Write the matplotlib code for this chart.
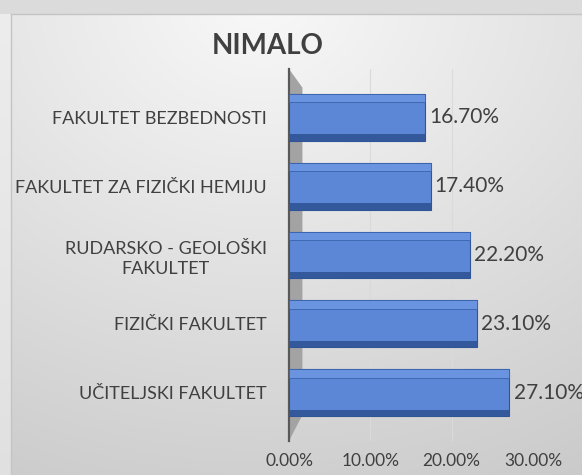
import numpy as np
import matplotlib
matplotlib.use("Agg")
import matplotlib.pyplot as plt
from matplotlib.patches import Polygon

# podaci (odozdo prema gore)
fakulteti = ['UČITELJSKI FAKULTET', 'FIZIČKI FAKULTET', 'RUDARSKO - GEOLOŠKI\nFAKULTET',
             'FAKULTET ZA FIZIČKI HEMIJU', 'FAKULTET BEZBEDNOSTI']
procenti = [27.1, 23.1, 22.2, 17.4, 16.7]
x_ticks = [0, 10, 20, 30]

plt.rcParams['font.family'] = ['Lato', 'DejaVu Sans']
tekst = '#404040'

W, H = 582, 475
fig = plt.figure(figsize=(W / 100, H / 100), dpi=100)

# pozadina: spoljni sivi okvir + panel sa gradijentom
bg = fig.add_axes([0, 0, 1, 1], zorder=-10)
yy, xx = np.mgrid[0:H, 0:W]
d = np.sqrt(((xx - 0.45 * W) / W) ** 2 + ((yy - 0.0 * H) / H) ** 2)
panel = np.clip(0.975 - 0.16 * d, 0.78, 1)
img = np.where((xx >= 11) & (yy >= 14), panel, 0.86)
img = np.where((xx < 11) & (yy >= 14), 0.93 - 0.05 * yy / H, img)
bg.imshow(np.dstack([img] * 3), aspect='auto', extent=[0, W, H, 0])
bg.plot([11, W], [14, 14], color='#c4c4c4', lw=1)
bg.plot([11, 11], [14, H], color='#c4c4c4', lw=1)
bg.set_xlim(0, W)
bg.set_ylim(H, 0)
bg.axis('off')

ax = fig.add_axes([289 / W, 1 - 441 / H, 244 / W, 372 / H])
ax.patch.set_alpha(0)
y = np.arange(len(fakulteti))
h = 0.68

# bočni zid
ax.add_patch(Polygon([(0, 1), (0.055, 0.95), (0.055, 0.07), (0, 0)], closed=True,
                     transform=ax.transAxes, facecolor='#a3a3a3', edgecolor='none',
                     zorder=1, clip_on=False))
ax.plot([0, 0], [0, 1], transform=ax.transAxes, color='#595959', lw=1.6, zorder=2,
        clip_on=False)

ax.barh(y, procenti, height=h, color='#5b87d6', edgecolor='#2f5597', linewidth=0.8, zorder=3)
ax.barh(y + h / 2 - 0.06, procenti, height=0.12, color='#6a94e0', edgecolor='#3a63ad',
        linewidth=0.6, zorder=4)
ax.barh(y - h / 2 + 0.045, procenti, height=0.09, color='#34589c', edgecolor='none', zorder=4)

for yi, v in zip(y, procenti):
    ax.annotate(f'{v:.2f}%', (v, yi), xytext=(3, 0), textcoords='offset points',
                va='center', ha='left', fontsize=15, color=tekst, zorder=5)

ax.set_xlim(0, 30)
ax.set_ylim(-0.7, len(fakulteti) - 0.3)
ax.set_xticks(x_ticks)
ax.set_xticklabels([f'{t:.2f}%' for t in x_ticks], fontsize=12.5, color=tekst)
ax.set_yticks(y)
ax.set_yticklabels(fakulteti, fontsize=13, color=tekst, linespacing=1.35)
for lbl in ax.get_yticklabels():
    lbl.set_multialignment('center')
ax.tick_params(axis='both', length=0)
ax.tick_params(axis='x', pad=9)
ax.tick_params(axis='y', pad=16)
ax.grid(axis='x', color='#dadada', lw=0.8, zorder=0)
for s in ax.spines.values():
    s.set_visible(False)

fig.text(268 / W, 1 - 46 / H, 'NIMALO', ha='center', va='center', fontsize=20,
         fontweight='bold', color=tekst)

fig.savefig('out.png', dpi=100)
